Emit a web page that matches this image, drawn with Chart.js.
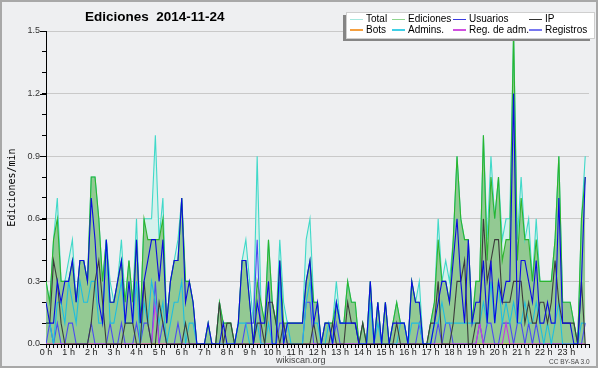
<!DOCTYPE html>
<html>
<head>
<meta charset="utf-8">
<script src="https://cdn.jsdelivr.net/npm/chart.js@4/dist/chart.umd.min.js"></script>
<style>
html,body{margin:0;padding:0;background:#fff;}
#wrap{position:relative;width:600px;height:370px;overflow:hidden;font-family:'Liberation Sans',Arial,sans-serif;}
#c{position:absolute;left:0;top:0;}
.t{position:absolute;white-space:pre;line-height:10px;font-size:10px;color:#000;}
.sw{position:absolute;height:1.5px;width:13px;}
#title{position:absolute;left:85px;top:10px;font-weight:bold;font-size:13.5px;line-height:13px;white-space:pre;color:#000;}
#shadow{position:absolute;left:343px;top:15px;width:247px;height:26px;background:#858585;}
#legend{position:absolute;left:346px;top:12px;width:247px;height:25px;background:#fff;border:1px solid #cfcfcf;}
#src{position:absolute;left:276px;top:355px;font-size:9px;line-height:10px;color:#444;}
#lic{position:absolute;left:549px;top:358px;font-size:6.5px;line-height:8px;color:#444;white-space:pre;}
</style>
</head>
<body>
<div id="wrap">
<canvas id="c" width="600" height="370"></canvas>
<div id="title">Ediciones  2014-11-24</div>
<div id="shadow"></div>
<div id="legend"></div>
<div id="src">wikiscan.org</div>
<div id="lic">CC BY-SA 3.0</div>
</div>
<script>
// 10-minute slots across 24 h; values in edits per minute
const hourLabels = ['0 h','1 h','2 h','3 h','4 h','5 h','6 h','7 h','8 h','9 h','10 h','11 h','12 h','13 h','14 h','15 h','16 h','17 h','18 h','19 h','20 h','21 h','22 h','23 h'];
const yTickLabels = ['0.0','0.3','0.6','0.9','1.2','1.5'];

const total = [
 .3,.2,.5,.7,.3,.3, .4,.5,.2,.4,.4,.3, .8,.8,.6,.3,.5,.3, .2,.3,.5,.2,.4,.2,
 .6,.1,.6,.6,.6,1.0, .5,.7,.1,.3,.4,.5, .7,.3,.3,.2,0,0, 0,.1,0,0,.2,.1,
 .1,.1,0,.1,.4,.5, .3,.1,.9,.2,.1,.5, .2,.1,.5,.2,.1,.1, .1,.1,.1,.5,.6,.2,
 .2,0,.1,.1,.1,.3, .1,.1,.3,.2,.2,0, .1,0,.3,0,.2,0, .2,0,.1,.2,.1,.1,
 0,.3,.2,.3,0,0, .1,.2,.6,.3,.4,.3, .5,.9,.6,.5,.5,.1, .3,.3,1.0,.5,.9,.6,
 .8,.5,.6,.6,1.5,.5, .8,.5,.6,.3,.6,.3, .3,.3,.3,.5,.9,.2, .2,.2,.1,0,.6,.9];
const edits = [
 .3,.2,.5,.6,.3,.3, .3,.4,.2,.4,.4,.3, .8,.8,.6,.3,.5,.2, .2,.3,.4,.2,.4,.2,
 .5,.1,.6,.5,.5,.5, .5,.6,.1,.3,.4,.4, .7,.3,.3,.2,0,0, 0,.1,0,0,.2,.1,
 .1,.1,0,.1,.4,.4, .2,0,.3,.2,.1,.5, .2,.1,.4,.1,.1,.1, .1,.1,.1,.3,.4,.2,
 .2,0,.1,.1,.1,.2, .1,.1,.3,.2,.2,0, .1,0,.3,0,.2,0, .2,0,.1,.2,.1,.1,
 0,.3,.2,.2,0,0, .1,.2,.5,.3,.3,.2, .5,.9,.6,.5,.5,.1, .3,.3,1.0,.4,.8,.6,
 .8,.4,.5,.5,1.5,.4, .7,.5,.5,.3,.5,.3, .3,.3,.3,.5,.9,.2, .2,.2,.1,0,.6,.8];
const users = [
 .2,.1,.1,.3,.2,.3, .3,.4,.2,.4,.4,.3, .7,.5,.2,.1,.5,.2, .2,.3,.4,.1,.3,.1,
 .5,.1,.3,.4,.5,.5, .3,.5,.1,.3,.4,.4, .7,.2,.3,.2,0,0, 0,.1,0,0,0,.1,
 0,0,0,.1,.4,.4, .2,0,.2,.1,.1,.3, 0,0,.4,0,.1,.1, .1,.1,.1,.3,.4,.1,
 .2,0,.1,.1,0,.2, .1,.1,.1,.1,.1,0, 0,0,.3,0,.2,0, .2,0,.1,.1,.1,.1,
 0,.3,.2,.2,0,0, 0,.1,.2,.3,.3,.2, .4,.6,.3,.1,.5,.1, .2,.2,.4,.1,.4,.1,
 .3,.2,.3,.3,1.2,.1, .4,.4,.3,.2,.4,.1, .1,.2,.1,.1,.7,.1, .1,.1,0,0,.3,.8];
const ip = [
 .1,.1,.4,.3,.1,0, 0,0,0,0,0,0, .1,.3,.4,.2,0,0, 0,0,0,.1,.1,.1,
 0,0,.3,.1,0,0, .2,.1,0,0,0,0, 0,.1,0,0,0,0, 0,0,0,0,.2,0,
 .1,.1,0,0,0,0, 0,0,.1,.1,0,.2, .2,.1,0,.1,0,0, 0,0,0,0,0,.1,
 0,0,0,0,.1,0, 0,0,.2,.1,.1,0, .1,0,0,0,0,0, 0,0,0,.1,0,0,
 0,0,0,0,0,0, .1,.1,.3,0,0,0, .1,.3,.3,.4,0,0, .1,.1,.6,.3,.4,.5,
 .5,.2,.2,.2,.3,.3, .3,.1,.2,.1,.1,.2, .2,.1,.2,.4,.2,.1, .1,.1,.1,0,.3,0];
const bots = [
 0,0,0,0,0,0, 0,0,0,0,0,0, 0,0,0,0,0,0, 0,0,0,0,0,0,
 0,0,0,0,0,0, 0,0,0,0,0,0, 0,0,0,0,0,0, 0,0,0,0,0,0,
 0,0,0,0,0,0, 0,0,0,0,0,0, 0,0,0,0,0,0, 0,0,0,0,0,0,
 0,0,0,0,0,0, 0,0,0,0,0,0, 0,0,0,0,0,0, 0,0,0,0,0,0,
 0,0,0,0,0,0, 0,0,0,0,0,0, 0,0,0,0,0,0, 0,0,0,0,0,0,
 0,0,0,0,0,0, 0,0,0,0,0,0, 0,0,0,0,0,0, 0,0,0,0,0,0];
const admins = [
 .1,.1,0,.2,.2,.1, .3,.2,.1,.3,.2,.2, .3,.3,.1,.1,.5,.1, .1,.2,.3,.1,.1,.1,
 .3,0,.2,.1,.3,.2, .1,.2,0,.1,.2,.2, .3,0,.1,.1,0,0, 0,0,0,0,0,0,
 0,0,0,.1,.1,.1, 0,0,.1,0,0,.1, 0,0,.3,0,.1,0, 0,0,0,.2,.3,.1,
 .1,0,0,.1,0,.2, .1,.1,.1,.1,.1,0, 0,0,.2,0,.1,0, 0,0,0,0,.1,.1,
 0,.1,.1,.1,0,0, 0,.1,.1,.2,.1,.1, .1,.1,.1,.1,.1,.1, .1,.1,.2,.1,.3,.1,
 .3,.1,.2,.1,.2,.1, .1,.2,.1,.1,.2,.1, 0,.1,0,.1,.2,0, 0,0,0,0,.1,.1];
const regAdm = [
 0,0,0,0,0,0, 0,0,0,0,0,0, 0,0,0,0,0,0, 0,0,0,0,0,0,
 0,0,0,0,0,.2, 0,0,0,0,0,0, 0,0,0,0,0,0, 0,0,0,0,0,0,
 0,0,0,0,0,0, 0,0,0,0,0,0, 0,0,0,0,0,0, 0,0,0,0,0,0,
 0,0,0,0,0,0, 0,0,0,0,0,0, 0,0,0,0,0,0, 0,0,0,0,0,0,
 0,0,0,0,0,0, 0,0,0,0,0,0, 0,0,0,0,0,0, 0,.1,0,0,0,0,
 0,0,.1,0,0,0, 0,0,0,0,0,0, 0,0,0,0,0,0, 0,0,0,0,0,0];
const logs = [
 0,.1,0,.1,0,0, .1,.1,0,0,0,0, .1,0,0,0,0,.1, 0,0,.1,0,0,0,
 .1,0,.1,.1,0,.3, 0,.1,0,0,0,.1, 0,0,0,0,0,0, 0,0,0,0,0,0,
 0,0,0,0,0,.1, .1,.1,.5,0,0,0, 0,0,.1,.1,0,0, 0,0,0,.2,.2,0,
 0,0,0,0,0,.1, 0,0,0,0,0,0, 0,0,0,0,0,0, 0,0,0,0,0,0,
 0,0,0,.1,0,0, 0,0,.1,0,.1,.1, 0,0,0,0,0,0, 0,.1,0,.1,.1,0,
 0,.1,.1,.1,0,.1, .1,0,.1,0,.1,0, 0,0,0,0,0,0, 0,0,0,0,0,.1];

const FONT = "'Liberation Sans', Arial, sans-serif";
const pts = arr => arr.map((v, i) => ({x: i, y: v}));

const series = [
  {label:'Total', data: total, color:'#40d9c9', fill:'#d5f1ec', sw:'#a6e8df', order:10},
  {label:'Ediciones', data: edits, color:'#2db42d', fill:'#93c993', sw:'#8fd68f', order:9},
  {label:'Bots', data: bots, color:'#f59a30', sw:'#f5a040', order:8},
  {label:'Registros', data: logs, color:'#4b4bf2', sw:'#7878f0', order:7},
  {label:'Reg. de adm.', data: regAdm, color:'#c83ce0', sw:'#d050e0', order:6},
  {label:'Admins.', data: admins, color:'#1fbde0', sw:'#40cfe6', order:5},
  {label:'IP', data: ip, color:'#3c3c3c', sw:'#333333', order:4},
  {label:'Usuarios', data: users, color:'#0b0be0', sw:'#3a3ae0', order:3}
];

const datasets = series.map(s => ({
  label: s.label,
  data: pts(s.data),
  borderColor: s.color,
  backgroundColor: s.fill || s.color,
  fill: s.fill ? 'origin' : false,
  borderWidth: 1.1,
  pointRadius: 0,
  tension: 0,
  order: s.order
}));

const bgPlugin = {
  id: 'bgPlugin',
  beforeDraw(chart) {
    const ctx = chart.ctx;
    ctx.save();
    ctx.fillStyle = '#ffffff';
    ctx.fillRect(0, 0, 600, 370);
    ctx.fillStyle = '#eeeff1';
    ctx.fillRect(1, 1, 596, 366);
    ctx.strokeStyle = '#a8a8a8';
    ctx.lineWidth = 2;
    ctx.strokeRect(1, 1, 596, 366);
    ctx.restore();
  },
  // longer tick marks at the labelled y values
  afterDraw(chart) {
    const ctx = chart.ctx, y = chart.scales.y, left = chart.chartArea.left;
    ctx.save();
    ctx.strokeStyle = '#000';
    ctx.lineWidth = 1;
    y.ticks.forEach(t => {
      const k = Math.round(t.value * 10);
      if (k % 3 === 0) {
        const py = Math.round(y.getPixelForValue(t.value)) + 0.5;
        ctx.beginPath();
        ctx.moveTo(left - 6, py);
        ctx.lineTo(left, py);
        ctx.stroke();
      }
    });
    ctx.restore();
  }
};

new Chart(document.getElementById('c'), {
  type: 'line',
  data: { datasets },
  plugins: [bgPlugin],
  options: {
    responsive: false,
    animation: false,
    devicePixelRatio: 1,
    layout: { padding: { left: 0, right: 11, top: 31, bottom: 0 } },
    plugins: {
      legend: { display: false },
      title: { display: false },
      tooltip: { enabled: false },
      filler: { drawTime: 'beforeDatasetsDraw' }
    },
    scales: {
      x: {
        type: 'linear', min: 0, max: 144, z: 1,
        border: { color: '#000', width: 1 },
        grid: { drawOnChartArea: false, tickLength: 4, color: '#000', tickColor: '#000' },
        ticks: {
          stepSize: 1, autoSkip: false, maxRotation: 0, padding: -1,
          font: { family: FONT, size: 9 }, color: '#222',
          callback: v => (v % 6 === 0 && v < 144) ? hourLabels[v / 6] : ''
        },
        afterFit: s => { s.height = 26; }
      },
      y: {
        min: 0, max: 1.5,
        border: { color: '#000', width: 1 },
        grid: {
          color: c => { const k = Math.round(c.tick.value * 10); return (k % 3 === 0 && k > 0) ? '#c9c9c9' : 'rgba(0,0,0,0)'; },
          tickColor: '#000', tickLength: 4, lineWidth: 1
        },
        ticks: {
          stepSize: 0.1, autoSkip: false, padding: 2,
          font: { family: FONT, size: 9 }, color: '#333',
          callback: v => { const k = Math.round(v * 10); return k % 3 === 0 ? yTickLabels[k / 3] : ''; }
        },
        title: { display: true, text: 'Ediciones/min', font: { family: "'DejaVu Sans Mono', monospace", size: 10 }, color: '#000', padding: { top: 6, bottom: 0 } },
        afterFit: s => { s.width = 46; }
      }
    }
  }
});

// legend grid (4 columns x 2 rows)
const legendItems = [
  ['Total', 0, 0], ['Ediciones', 1, 0], ['Usuarios', 2, 0], ['IP', 3, 0],
  ['Bots', 0, 1], ['Admins.', 1, 1], ['Reg. de adm.', 2, 1], ['Registros', 3, 1]
];
const colSw = [350, 392, 453, 529];
const colTx = [366, 408, 469, 545];
const rowY = [14, 24.5];
const wrap = document.getElementById('wrap');
legendItems.forEach(([name, col, row]) => {
  const s = series.find(q => q.label === name);
  const sw = document.createElement('div');
  sw.className = 'sw';
  sw.style.left = colSw[col] + 'px';
  sw.style.top = (rowY[row] + 4.5) + 'px';
  sw.style.background = s.sw;
  wrap.appendChild(sw);
  const t = document.createElement('div');
  t.className = 't';
  t.style.left = colTx[col] + 'px';
  t.style.top = rowY[row] + 'px';
  t.textContent = name;
  wrap.appendChild(t);
});
</script>
</body>
</html>
